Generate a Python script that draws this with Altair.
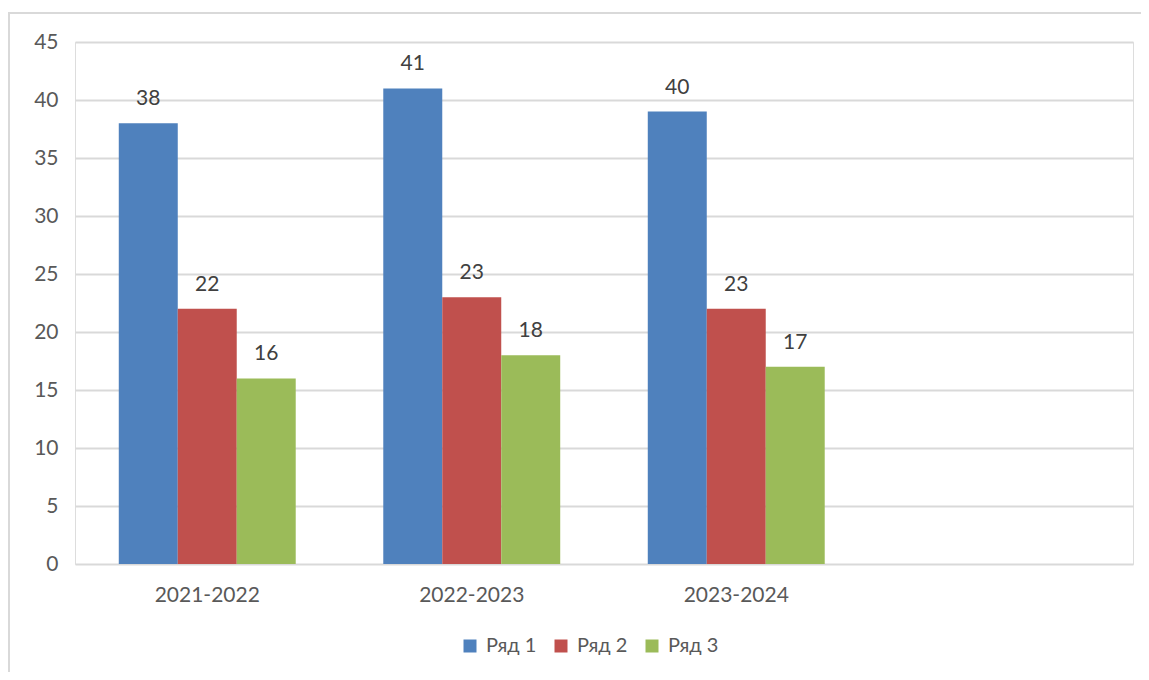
import altair as alt
import pandas as pd

categories = ["2021-2022", "2022-2023", "2023-2024"]
empty_slot = " "
series = ["Ряд 1", "Ряд 2", "Ряд 3"]
row1_heights = [38, 41, 39]
row2_heights = [22, 23, 22]
row3_heights = [16, 18, 17]
row1_labels = ["38", "41", "40"]
row2_labels = ["22", "23", "23"]
row3_labels = ["16", "18", "17"]
colors = ["#4F81BD", "#C0504D", "#9BBB59"]
y_ticks = [0, 5, 10, 15, 20, 25, 30, 35, 40, 45]

rows = []
for s, hs, ls in zip(series, [row1_heights, row2_heights, row3_heights],
                     [row1_labels, row2_labels, row3_labels]):
    for c, h, l in zip(categories, hs, ls):
        rows.append({"category": c, "series": s, "value": h, "label": l})
df = pd.DataFrame(rows)

FONT = "Lato, Noto Sans, sans-serif"
AX = "#595959"

x_enc = alt.X(
    "category:N",
    scale=alt.Scale(domain=categories + [empty_slot], paddingInner=0.331, paddingOuter=0.1655),
    axis=alt.Axis(labelFontSize=21, labelFont=FONT, labelColor=AX, labelPadding=20,
                  domain=False, ticks=False, grid=False, labelAngle=0, title=None),
)
xo_enc = alt.XOffset("series:N", scale=alt.Scale(domain=series, paddingInner=0, paddingOuter=0))
y_enc = alt.Y(
    "value:Q",
    scale=alt.Scale(domain=[0, 45], nice=False),
    axis=alt.Axis(values=y_ticks, labelFontSize=21, labelFont=FONT, labelColor=AX,
                  labelPadding=17, domain=False, ticks=False, gridColor="#d9d9d9",
                  gridWidth=2, title=None),
)

base = alt.Chart(df)

bars = base.mark_bar().encode(
    x=x_enc,
    xOffset=xo_enc,
    y=y_enc,
    color=alt.Color(
        "series:N",
        scale=alt.Scale(domain=series, range=colors),
        legend=alt.Legend(orient="none", direction="horizontal", legendX=385, legendY=594,
                          title=None, symbolType="square", symbolSize=169,
                          symbolStrokeWidth=0, symbolOpacity=1, labelFontSize=20,
                          labelFont=FONT, labelColor=AX, labelOffset=6, columnPadding=14),
    ),
)

labels = base.mark_text(fontSize=21, font=FONT, color="#404040", baseline="alphabetic",
                        dy=-18).encode(
    x=x_enc,
    xOffset=xo_enc,
    y=y_enc,
    text="label:N",
)

border = alt.Chart(pd.DataFrame({"a": [0]})).mark_rect(
    filled=False, stroke="#d9d9d9", strokeWidth=2
).encode(
    x=alt.value(-66), x2=alt.value(1200), y=alt.value(-29), y2=alt.value(800)
)

chart = alt.layer(border, bars, labels).properties(
    width=1058, height=522,
    autosize=alt.AutoSizeParams(type="none"),
    padding={"left": 67, "top": 34, "right": 8, "bottom": 108},
).configure_view(stroke="transparent").configure(background="white")

chart.save("out.html", embed_options={"renderer": "svg", "actions": False})
